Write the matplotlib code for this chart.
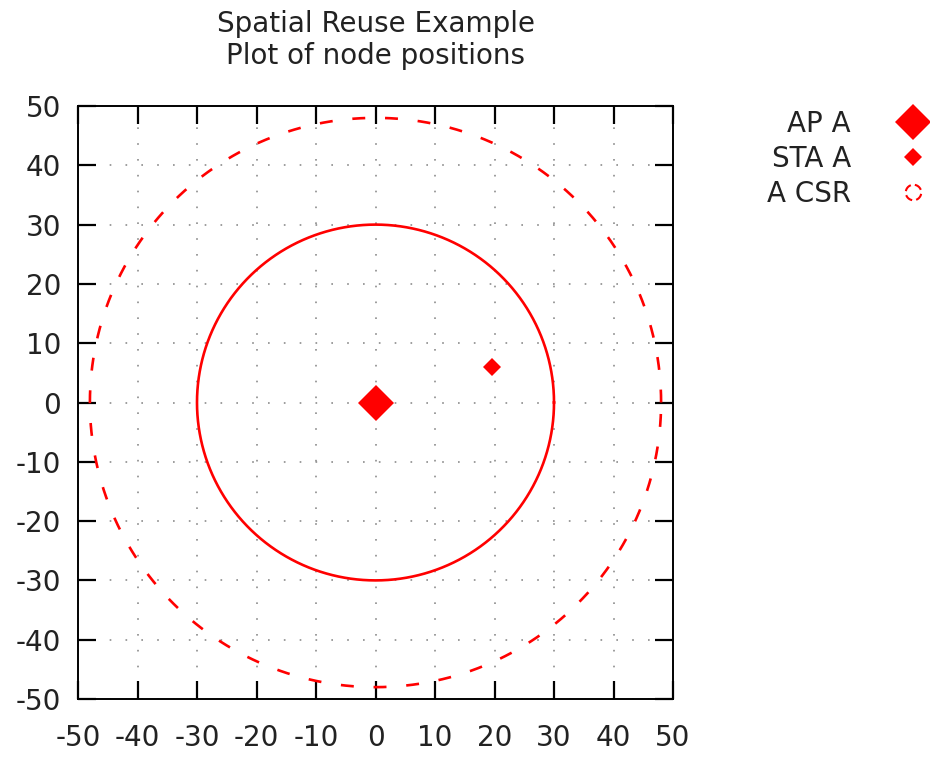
import numpy as np
import matplotlib
matplotlib.use("Agg")
import matplotlib.pyplot as plt
from matplotlib.path import Path

plt.rcParams['font.family'] = ['DejaVu Sans']
plt.rcParams['axes.unicode_minus'] = False

# node positions (metres)
ap_pos = (0.0, 0.0)
sta_pos = (19.5, 6.0)
# circles drawn around the AP
sta_radius = 30.0
csr_radius = 48.0

ticks = np.arange(-50, 51, 10)

fig = plt.figure(figsize=(9.3, 7.57), dpi=100)
ax = fig.add_axes([78/930, 1-699/757, 595/930, 593/757])

theta = np.linspace(0, 2*np.pi, 721)
ax.plot(ap_pos[0] + sta_radius*np.cos(theta), ap_pos[1] + sta_radius*np.sin(theta),
        color='red', lw=1.9, zorder=3)
ax.plot(ap_pos[0] + csr_radius*np.cos(theta), ap_pos[1] + csr_radius*np.sin(theta),
        color='red', lw=1.9, ls=(0, (4.9, 7.5)), zorder=3)

ap, = ax.plot(*ap_pos, 'D', color='red', ms=18, mew=0, zorder=4, label='AP A')
sta, = ax.plot(*sta_pos, 'D', color='red', ms=9.5, mew=0, zorder=4, label='STA A')

# small broken ring used as the legend key for the CSR circle
verts, codes = [], []
for a0 in np.radians([20, 110, 200, 290]):
    arc = np.linspace(a0, a0 + np.radians(60), 8)
    for i, a in enumerate(arc):
        verts.append((np.cos(a), np.sin(a)))
        codes.append(Path.MOVETO if i == 0 else Path.LINETO)
ring = Path(verts, codes)
csr_key = plt.Line2D([], [], ls='none', marker=ring, ms=11, mfc='none',
                     mec='red', mew=1.5, label='A CSR')

ax.set_xlim(-50, 50)
ax.set_ylim(-50, 50)
ax.set_xticks(ticks)
ax.set_yticks(ticks)
ax.tick_params(direction='in', length=13, width=1.6, top=True, right=True,
               labelsize=20, colors='black', labelcolor='#222222')
ax.tick_params(axis='y', pad=12)
ax.tick_params(axis='x', pad=18)
for s in ax.spines.values():
    s.set_linewidth(1.4)
ax.grid(True, color='#8c8c8c', lw=1.2, ls=(0, (1, 8.5)))
ax.set_axisbelow(True)

ax.set_title('Spatial Reuse Example\nPlot of node positions', fontsize=20,
             pad=30, linespacing=1.2, color='#222222')

leg = fig.legend(handles=[ap, sta, csr_key], loc='upper right',
                 bbox_to_anchor=(1.0, 1 - 110/757), frameon=False, fontsize=20,
                 markerfirst=False, handlelength=1.2, handletextpad=1.65,
                 labelspacing=0.25, borderaxespad=0, borderpad=0)
for t in leg.get_texts():
    t.set_color('#222222')

fig.savefig('out.png', dpi=100)
